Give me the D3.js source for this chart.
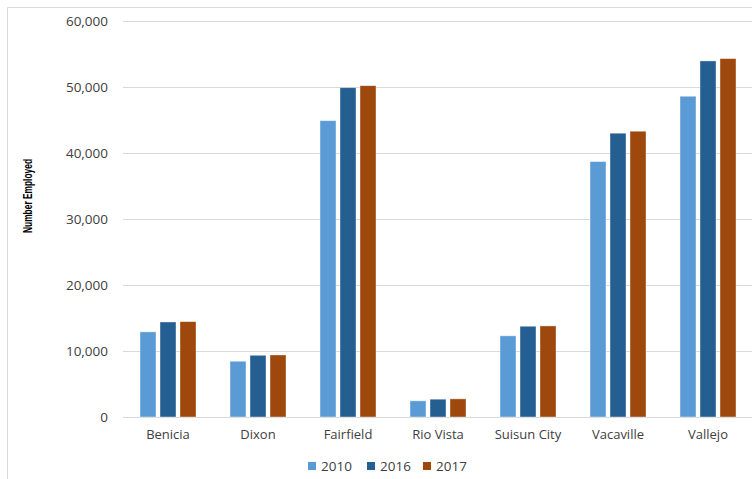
<!DOCTYPE html>
<html>
<head>
<meta charset="utf-8">
<script src="https://cdn.jsdelivr.net/npm/d3@7"></script>
<style>
  body { margin: 0; background: #fff; }
  svg { display: block; font-family: "Open Sans", sans-serif; }
</style>
</head>
<body>
<div id="chart-container"></div>
<script>
const cities = ["Benicia", "Dixon", "Fairfield", "Rio Vista", "Suisun City", "Vacaville", "Vallejo"];
const years = ["2010", "2016", "2017"];
const emp2010 = [12900, 8450, 44900, 2450, 12300, 38700, 48600];
const emp2016 = [14400, 9350, 49900, 2700, 13750, 43000, 53950];
const emp2017 = [14450, 9400, 50200, 2750, 13800, 43300, 54300];
const yTicks = [0, 10000, 20000, 30000, 40000, 50000, 60000];

const COLORS = { "2010": "#5b9bd5", "2016": "#255e91", "2017": "#9e480e" };
const values = { "2010": emp2010, "2016": emp2016, "2017": emp2017 };

const W = 752, H = 479;
const plot = { left: 123, right: 753, top: 21, bottom: 417 };

const svg = d3.select("#chart-container")
  .append("svg")
  .attr("width", W)
  .attr("height", H);

// frame (top + left edges visible)
svg.append("path")
  .attr("d", `M7.5,${H} V7.5 H${W}`)
  .attr("fill", "none")
  .attr("stroke", "#d9d9d9")
  .attr("stroke-width", 1);

const x0 = d3.scaleBand().domain(cities).range([plot.left, plot.right]);
const x1 = d3.scaleBand().domain(years).range([-28, 28]).paddingInner(0.2).paddingOuter(0);
const y = d3.scaleLinear().domain([0, 60000]).range([plot.bottom, plot.top]);

// gridlines
svg.append("g")
  .selectAll("line")
  .data(yTicks)
  .join("line")
  .attr("x1", plot.left).attr("x2", W)
  .attr("y1", d => Math.round(y(d)) + 0.5)
  .attr("y2", d => Math.round(y(d)) + 0.5)
  .attr("stroke", "#d9d9d9")
  .attr("stroke-width", 1);

// y tick labels
svg.append("g")
  .selectAll("text")
  .data(yTicks)
  .join("text")
  .attr("x", 108)
  .attr("y", d => y(d))
  .attr("dy", "0.35em")
  .attr("text-anchor", "end")
  .attr("font-size", 13.5)
  .attr("fill", "#404040")
  .text(d => d3.format(",")(d));

// y label (condensed look via textLength)
svg.append("text")
  .attr("transform", `translate(32,196) rotate(-90)`)
  .attr("text-anchor", "middle")
  .attr("font-family", "'Liberation Sans', sans-serif")
  .attr("font-weight", "bold")
  .attr("font-size", 12.5)
  .attr("textLength", 74)
  .attr("lengthAdjust", "spacingAndGlyphs")
  .attr("fill", "#000")
  .text("Number Employed");

// bars
const groups = svg.append("g")
  .selectAll("g")
  .data(cities)
  .join("g")
  .attr("transform", d => `translate(${x0(d) + x0.bandwidth() / 2},0)`);

groups.selectAll("rect")
  .data((c, i) => years.map(yr => ({ yr, v: values[yr][i] })))
  .join("rect")
  .attr("x", d => x1(d.yr))
  .attr("width", x1.bandwidth())
  .attr("y", d => y(d.v))
  .attr("height", d => y(0) - y(d.v))
  .attr("fill", d => COLORS[d.yr])
  .attr("stroke", "#ffffff")
  .attr("stroke-opacity", 0.5)
  .attr("stroke-width", 0.8);

// category labels
svg.append("g")
  .selectAll("text")
  .data(cities)
  .join("text")
  .attr("x", d => x0(d) + x0.bandwidth() / 2)
  .attr("y", 434)
  .attr("dy", "0.35em")
  .attr("text-anchor", "middle")
  .attr("font-size", 13)
  .attr("fill", "#404040")
  .text(d => d);

// legend
const legendX = [308, 367, 423];
const legend = svg.append("g").attr("transform", "translate(0,466)");
years.forEach((yr, i) => {
  legend.append("rect")
    .attr("x", legendX[i]).attr("y", -4)
    .attr("width", 8).attr("height", 8)
    .attr("fill", COLORS[yr]);
  legend.append("text")
    .attr("x", legendX[i] + 13).attr("y", 0)
    .attr("dy", "0.35em")
    .attr("font-size", 13.5)
    .attr("fill", "#404040")
    .text(yr);
});
</script>
</body>
</html>
